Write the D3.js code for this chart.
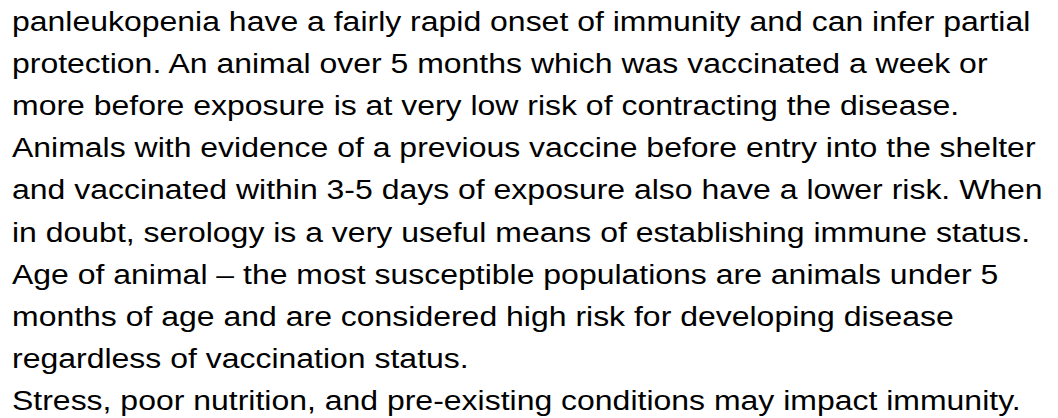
<!DOCTYPE html>
<html>
<head>
<meta charset="utf-8">
<script src="https://cdn.jsdelivr.net/npm/d3@7"></script>
<style>
  html, body { margin: 0; padding: 0; background: #fff; }
</style>
</head>
<body>
<div id="page"></div>
<script>
// Define SVG area dimensions
var svgWidth = 1058;
var svgHeight = 418;

// The lines of text, as they wrap in the picture
var lines = [
  "panleukopenia have a fairly rapid onset of immunity and can infer partial",
  "protection. An animal over 5 months which was vaccinated a week or",
  "more before exposure is at very low risk of contracting the disease.",
  "Animals with evidence of a previous vaccine before entry into the shelter",
  "and vaccinated within 3-5 days of exposure also have a lower risk. When",
  "in doubt, serology is a very useful means of establishing immune status.",
  "Age of animal \u2013 the most susceptible populations are animals under 5",
  "months of age and are considered high risk for developing disease",
  "regardless of vaccination status.",
  "Stress, poor nutrition, and pre-existing conditions may impact immunity."
];

var margin = { left: 12, firstBaseline: 31, lastBaseline: 410 };

// the picture's text is a bit wider than the font's natural width
var stretchX = 1.142;

var svg = d3.select("#page")
  .append("svg")
  .attr("width", svgWidth)
  .attr("height", svgHeight);

// one baseline per line, spaced evenly
var yScale = d3.scaleLinear()
  .domain([0, lines.length - 1])
  .range([margin.firstBaseline, margin.lastBaseline]);

svg.append("g")
  .attr("transform", `translate(${margin.left},0) scale(${stretchX},1)`)
  .selectAll("text")
  .data(lines)
  .enter()
  .append("text")
  .attr("x", 0)
  .attr("y", (d, i) => yScale(i))
  .attr("font-family", "'Liberation Sans', Arial, sans-serif")
  .attr("font-size", "28px")
  .attr("fill", "#000")
  .text(d => d);
</script>
</body>
</html>
